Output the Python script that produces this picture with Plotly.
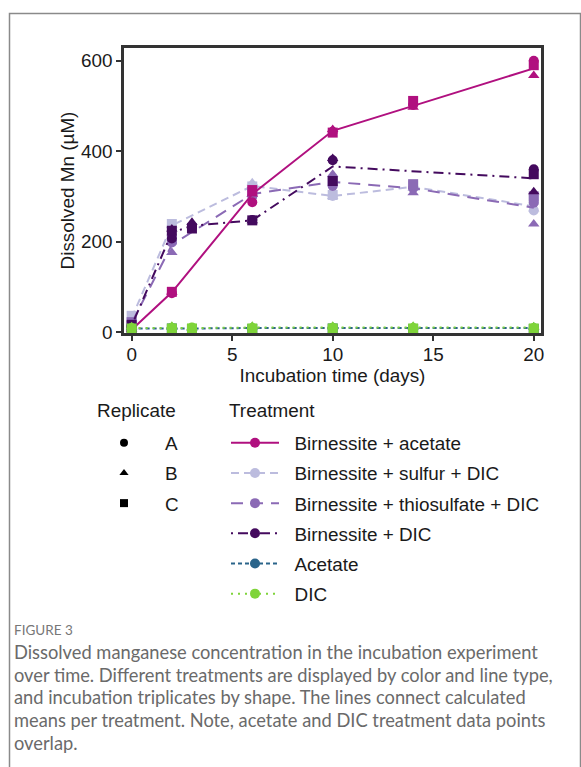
import plotly.graph_objects as go

# ---------------- data ----------------
days_ba = [0, 2, 6, 10, 14, 20]
ba_A = [4, 86, 287, 443, 502, 600]
ba_B = [6, 88, 305, 448, 497, 567]
ba_C = [5, 89, 314, 441, 511, 590]
ba_mean = [5, 88, 305, 445, 500, 583]

days_bs = [0, 2, 6, 10, 14, 20]
bs_A = [30, 232, 318, 301, 322, 269]
bs_B = [28, 236, 330, 300, 318, 272]
bs_C = [36, 239, 322, 303, 324, 293]
bs_mean = [31, 236, 323, 301, 321, 278]

days_bt = [0, 2, 6, 10, 14, 20]
bt_A = [20, 198, 300, 323, 318, 286]
bt_B = [18, 176, 305, 349, 308, 239]
bt_C = [22, 205, 310, 333, 327, 300]
bt_mean = [20, 193, 305, 332, 318, 275]

days_bd = [0, 2, 3, 6, 10, 20]
bd_A = [12, 207, 232, 248, 380, 360]
bd_B = [14, 228, 243, 246, 384, 310]
bd_C = [16, 224, 229, 247, 334, 349]
bd_mean = [14, 220, 235, 247, 366, 340]

days_ac = [0, 2, 3, 6, 10, 14, 20]
ac_A = [8, 9, 8, 8, 9, 8, 8]
ac_B = [10, 11, 9, 12, 12, 11, 11]
ac_C = [7, 8, 7, 7, 8, 7, 7]
ac_mean = [8, 9, 8, 9, 9, 9, 9]

days_dic = [0, 2, 3, 6, 10, 14, 20]
dic_A = [9, 9, 10, 9, 9, 9, 9]
dic_B = [12, 13, 10, 13, 13, 13, 12]
dic_C = [8, 8, 8, 8, 8, 8, 8]
dic_mean = [9, 10, 9, 10, 10, 10, 10]

replicates = ["A", "B", "C"]
rep_symbols = ["circle", "triangle-up", "square"]

treatments = [
    # name, days, A, B, C, mean, color, dash
    ("Birnessite + sulfur + DIC", days_bs, bs_A, bs_B, bs_C, bs_mean, "#bcbcde", "8px,5px"),
    ("Birnessite + thiosulfate + DIC", days_bt, bt_A, bt_B, bt_C, bt_mean, "#8b6ab5", "12px,8px"),
    ("Birnessite + DIC", days_bd, bd_A, bd_B, bd_C, bd_mean, "#440a5e", "2px,5px,10px,5px"),
    ("Birnessite + acetate", days_ba, ba_A, ba_B, ba_C, ba_mean, "#b0107f", "solid"),
    ("Acetate", days_ac, ac_A, ac_B, ac_C, ac_mean, "#2a648a", "4px,3px"),
    ("DIC", days_dic, dic_A, dic_B, dic_C, dic_mean, "#7fd43a", "2px,5px"),
]
legend_order = ["Birnessite + acetate", "Birnessite + sulfur + DIC",
                "Birnessite + thiosulfate + DIC", "Birnessite + DIC", "Acetate", "DIC"]

FONT = "Liberation Sans, Arial, sans-serif"
FS = 18.9
TXT = "#1a1a1a"
NB = "\u00a0"
fig = go.Figure()

for name, days, A, B, C, mean, color, dash in treatments:
    fig.add_trace(go.Scatter(x=days, y=mean, mode="lines",
                             line=dict(color=color, width=2, dash=dash),
                             showlegend=False, hoverinfo="skip"))
    for rep, sym, vals in zip(replicates, rep_symbols, (A, B, C)):
        fig.add_trace(go.Scatter(x=days, y=vals, mode="markers",
                                 marker=dict(symbol=sym, color=color, size=10),
                                 showlegend=False, name=f"{name} {rep}"))

# legend: replicate (shapes)
for rep, sym in zip(replicates, rep_symbols):
    fig.add_trace(go.Scatter(x=[None], y=[None], mode="markers", name=NB * 4 + rep,
                             marker=dict(symbol=sym, color="black", size=8),
                             legend="legend", legendgroup=rep, showlegend=True))
# legend: treatment
tdict = {t[0]: t for t in treatments}
for name in legend_order:
    _, _, _, _, _, _, color, dash = tdict[name]
    fig.add_trace(go.Scatter(x=[None], y=[None], mode="lines+markers", name=NB * 2 + name,
                             line=dict(color=color, width=2, dash=dash),
                             marker=dict(symbol="circle", color=color, size=10),
                             legend="legend2", legendgroup=name, showlegend=True))

W, H = 581, 767
L, R, T, B = 124, 40, 48, 434
pw, ph = W - L - R, H - T - B


def px(x):
    return (x - L) / pw


def py(y):
    return (H - B - y) / ph


axis_common = dict(showline=True, linecolor="#333333", linewidth=2.5, mirror=True,
                   ticks="outside", ticklen=5, tickwidth=1.5, tickcolor="#333333",
                   showgrid=False, zeroline=False,
                   tickfont=dict(family=FONT, size=FS, color=TXT),
                   title_font=dict(family=FONT, size=FS, color=TXT))

fig.update_layout(
    width=W, height=H,
    margin=dict(l=L, r=R, t=T, b=B),
    plot_bgcolor="white", paper_bgcolor="white",
    xaxis=dict(range=[-0.38, 20.36], tickvals=[0, 5, 10, 15, 20], ticklabelstandoff=-2,
               title=dict(text="Incubation time (days)", standoff=1), **axis_common),
    yaxis=dict(range=[-2, 628], tickvals=[0, 200, 400, 600],
               title=dict(text="Dissolved Mn (µM)", standoff=2), **axis_common),
    legend=dict(x=px(104), y=py(424), xanchor="left", yanchor="top",
                font=dict(family=FONT, size=FS, color=TXT),
                traceorder="grouped", tracegroupgap=2.6, bgcolor="rgba(0,0,0,0)"),
    legend2=dict(x=px(226), y=py(424), xanchor="left", yanchor="top",
                 font=dict(family=FONT, size=FS, color=TXT),
                 traceorder="grouped", tracegroupgap=2.6, bgcolor="rgba(0,0,0,0)",
                 itemwidth=48),
    showlegend=True,
)

# legend headers
fig.add_annotation(xref="paper", yref="paper", x=px(95), y=py(410), xanchor="left",
                   yanchor="middle", showarrow=False, text="Replicate",
                   font=dict(family=FONT, size=FS, color=TXT))
fig.add_annotation(xref="paper", yref="paper", x=px(227), y=py(410), xanchor="left",
                   yanchor="middle", showarrow=False, text="Treatment",
                   font=dict(family=FONT, size=FS, color=TXT))

# outer card frame
fig.add_shape(type="rect", xref="paper", yref="paper",
              x0=px(9.5), x1=px(580.5), y0=py(790), y1=py(13.5),
              line=dict(color="#8a8a8a", width=1.5), fillcolor="rgba(0,0,0,0)", layer="below")

caption_lines = [
    "Dissolved manganese concentration in the incubation experiment",
    "over time. Different treatments are displayed by color and line type,",
    "and incubation triplicates by shape. The lines connect calculated",
    "means per treatment. Note, acetate and DIC treatment data points",
    "overlap.",
]
CAPF = "Lato, Open Sans, sans-serif"
fig.add_annotation(xref="paper", yref="paper", x=px(12), y=py(630),
                   xanchor="left", yanchor="middle", showarrow=False,
                   text="FIGURE 3", font=dict(family=CAPF, size=13.5, color="#777777"))
for i, line in enumerate(caption_lines):
    fig.add_annotation(xref="paper", yref="paper", x=px(12), y=py(652 + i * 22.75),
                       xanchor="left", yanchor="middle", showarrow=False,
                       text=line, font=dict(family=CAPF, size=18.3, color="#6a6a6a"))

fig.write_html("out.html")
